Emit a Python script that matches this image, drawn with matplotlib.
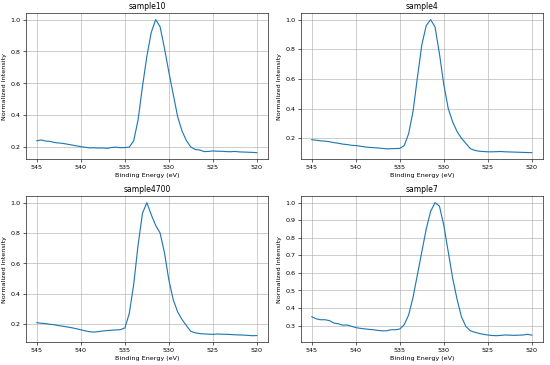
import numpy as np
import matplotlib
matplotlib.use('Agg')
import matplotlib.pyplot as plt

# Energia de enlace (eV), paso de 0.5 eV de 545 a 520
energia = np.arange(545.0, 519.99, -0.5)

muestras = ['sample10', 'sample4', 'sample4700', 'sample7']

sample10 = [0.240, 0.245, 0.238, 0.236, 0.229, 0.226, 0.223, 0.218, 0.213, 0.208,
            0.203, 0.199, 0.195, 0.196, 0.194, 0.195, 0.192, 0.198, 0.200, 0.196,
            0.197, 0.200, 0.240, 0.370, 0.580, 0.770, 0.920, 1.000, 0.955, 0.820,
            0.670, 0.530, 0.390, 0.300, 0.240, 0.200, 0.185, 0.182, 0.172, 0.173,
            0.176, 0.174, 0.174, 0.172, 0.171, 0.173, 0.170, 0.169, 0.168, 0.167,
            0.165]

sample4 = [0.190, 0.186, 0.182, 0.180, 0.176, 0.170, 0.166, 0.160, 0.157, 0.152,
           0.150, 0.146, 0.141, 0.138, 0.136, 0.134, 0.131, 0.128, 0.129, 0.130,
           0.131, 0.150, 0.230, 0.380, 0.610, 0.830, 0.960, 1.000, 0.950, 0.770,
           0.560, 0.400, 0.310, 0.245, 0.200, 0.165, 0.130, 0.118, 0.112, 0.110,
           0.108, 0.108, 0.109, 0.110, 0.108, 0.107, 0.106, 0.105, 0.104, 0.103,
           0.102]

sample4700 = [0.210, 0.206, 0.204, 0.199, 0.196, 0.190, 0.186, 0.181, 0.176, 0.170,
              0.163, 0.156, 0.150, 0.148, 0.151, 0.155, 0.158, 0.160, 0.162, 0.164,
              0.175, 0.270, 0.460, 0.720, 0.930, 1.000, 0.920, 0.850, 0.800, 0.670,
              0.490, 0.360, 0.280, 0.230, 0.190, 0.152, 0.143, 0.138, 0.136, 0.134,
              0.133, 0.135, 0.134, 0.133, 0.132, 0.130, 0.129, 0.128, 0.126, 0.124,
              0.125]

sample7 = [0.350, 0.338, 0.333, 0.333, 0.328, 0.314, 0.310, 0.302, 0.303, 0.296,
           0.288, 0.284, 0.281, 0.278, 0.276, 0.272, 0.270, 0.270, 0.276, 0.276,
           0.280, 0.305, 0.360, 0.460, 0.590, 0.720, 0.850, 0.950, 1.000, 0.980,
           0.870, 0.720, 0.570, 0.450, 0.350, 0.295, 0.270, 0.262, 0.255, 0.250,
           0.246, 0.243, 0.242, 0.244, 0.246, 0.245, 0.244, 0.245, 0.246, 0.250,
           0.245]

intensidades = [sample10, sample4, sample4700, sample7]

fig, axes = plt.subplots(2, 2, figsize=(10, 6.64), dpi=55)
fig.subplots_adjust(left=0.047, right=0.987, top=0.964, bottom=0.062,
                    wspace=0.136, hspace=0.25)

for ax, nombre, valores in zip(axes.flat, muestras, intensidades):
    ax.plot(energia, valores, color='#1f77b4', linewidth=1.5)
    ax.set_title(nombre, fontsize=10)
    ax.set_xlabel('Binding Energy (eV)', fontsize=8.4)
    ax.set_ylabel('Normalized Intensity', fontsize=8.4)
    ax.set_xticks([545, 540, 535, 530, 525, 520])
    ax.tick_params(labelsize=8.4)
    ax.invert_xaxis()
    ax.grid(True)

plt.savefig('out.png', dpi=55)
